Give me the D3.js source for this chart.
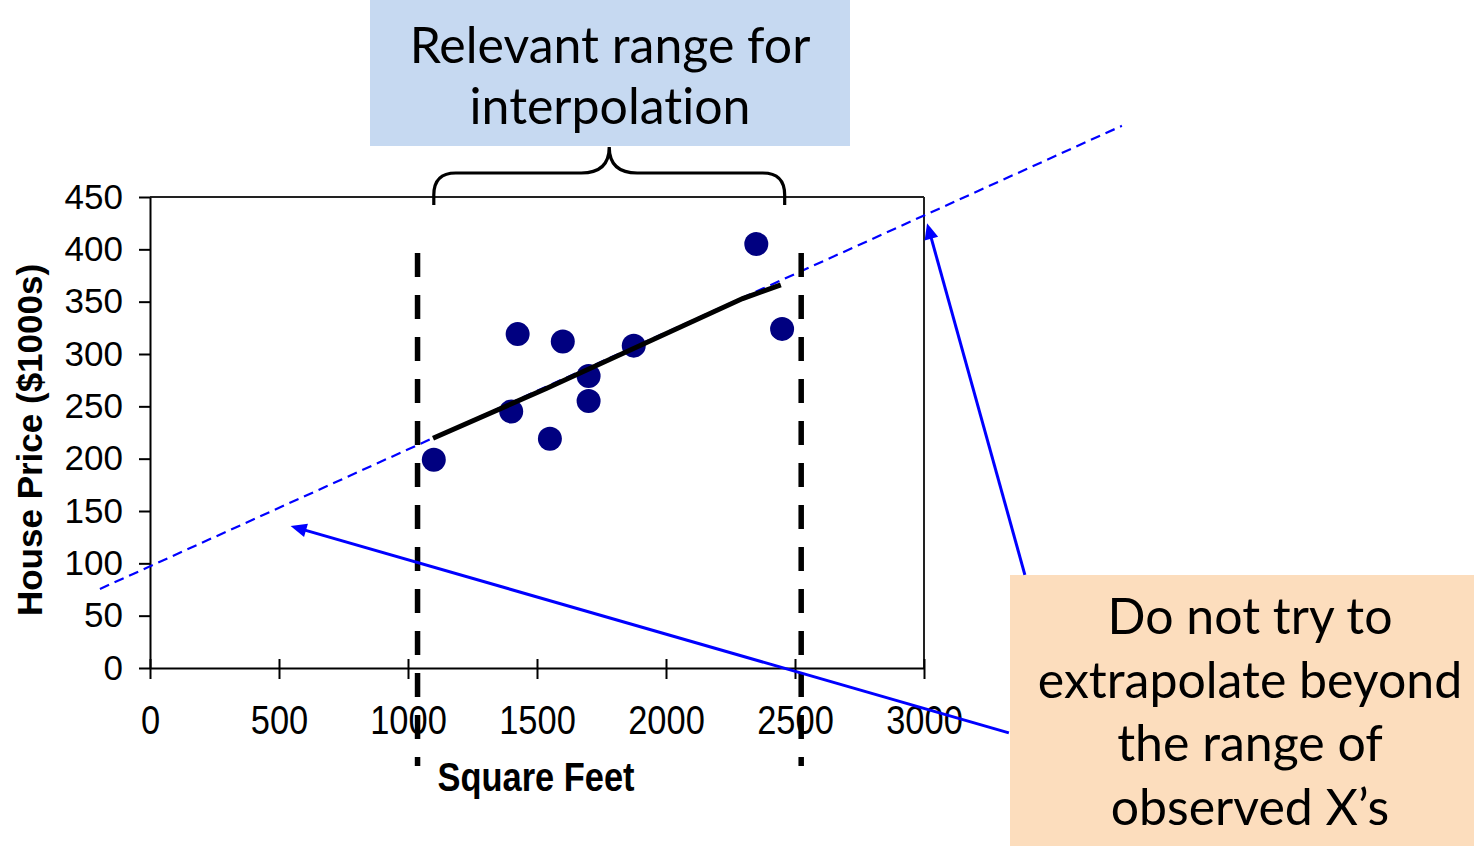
<!DOCTYPE html>
<html>
<head>
<meta charset="utf-8">
<script src="https://cdn.jsdelivr.net/npm/d3@7"></script>
<style>
  html, body { margin: 0; padding: 0; background: #ffffff; }
  svg { display: block; }
  .callout { font-variant-ligatures: none; font-feature-settings: "liga" 0, "clig" 0; }
</style>
</head>
<body>
<svg id="chart" width="1474" height="846"></svg>
<script>
// ---- data ----
const squareFeet = [1400, 1600, 1700, 1875, 1100, 1550, 2350, 2450, 1425, 1700];
const housePrice = [245, 312, 279, 308, 199, 219, 405, 324, 319, 255];
const xTickValues = [0, 500, 1000, 1500, 2000, 2500, 3000];
const yTickValues = [0, 50, 100, 150, 200, 250, 300, 350, 400, 450];
const fittedLine = [[1097, 219.5], [1536, 267], [2297, 353], [2445, 366]];
const extendedLine = [[-194, 75.5], [3767, 518]];
const relevantRange = [1037, 2524];
const braceRange = [1100, 2460];
const topLabel = ["Relevant range for", "interpolation"];
const sideLabel = ["Do not try to", "extrapolate beyond", "the range of", "observed X\u2019s"];
const arrowTips = [[3012, 425], [545, 135.7]];
const arrowTails = [[3391, 89], [3329, -62]];

// ---- layout ----
const svg = d3.select("#chart");
const x = d3.scaleLinear().domain([0, 3000]).range([150, 924]);
const y = d3.scaleLinear().domain([0, 450]).range([668, 197]);

// frame top & right
svg.append("line").attr("x1", x(0)).attr("x2", x(3000)).attr("y1", y(450)).attr("y2", y(450))
  .attr("stroke", "#222").attr("stroke-width", 2);
svg.append("line").attr("x1", x(3000)).attr("x2", x(3000)).attr("y1", y(450)).attr("y2", y(0))
  .attr("stroke", "#222").attr("stroke-width", 2);

// y axis
const yAxis = svg.append("g").attr("transform", `translate(${x(0)},0)`)
  .call(d3.axisLeft(y).tickValues(yTickValues).tickFormat(d3.format("d")).tickSize(11).tickSizeOuter(0).tickPadding(16));
yAxis.select(".domain").attr("stroke", "#000").attr("stroke-width", 2);
yAxis.selectAll(".tick line").attr("stroke", "#000").attr("stroke-width", 2);
yAxis.selectAll(".tick text").attr("font-family", "'Liberation Sans', Arial, sans-serif")
  .attr("font-size", 35).attr("fill", "#000");

// x axis
const xAxis = svg.append("g").attr("transform", `translate(0,${y(0)})`)
  .call(d3.axisBottom(x).tickValues(xTickValues).tickFormat(d3.format("d")).tickSize(11).tickSizeOuter(0).tickPadding(26));
xAxis.select(".domain").attr("stroke", "#000").attr("stroke-width", 2);
xAxis.selectAll(".tick line").attr("stroke", "#000").attr("stroke-width", 2).attr("y1", -9);
xAxis.selectAll(".tick text").attr("font-family", "'Liberation Sans', Arial, sans-serif")
  .attr("font-size", 41).attr("fill", "#000").attr("transform", "scale(0.84,1)");

// axis titles
svg.append("text").attr("transform", "translate(42,440) rotate(-90)")
  .attr("text-anchor", "middle").attr("font-family", "'Liberation Sans', Arial, sans-serif")
  .attr("font-weight", "bold").attr("font-size", 35).text("House Price ($1000s)");
svg.append("text").attr("transform", "translate(536,791) scale(0.84,1)")
  .attr("text-anchor", "middle").attr("font-family", "'Liberation Sans', Arial, sans-serif")
  .attr("font-weight", "bold").attr("font-size", 41).text("Square Feet");

// extended (extrapolated) regression line
const lineGen = d3.line().x(d => x(d[0])).y(d => y(d[1]));
svg.append("path").datum(extendedLine).attr("d", lineGen)
  .attr("fill", "none").attr("stroke", "#0000ff").attr("stroke-width", 2.2)
  .attr("stroke-dasharray", "10,6");

// points
svg.append("g").selectAll("circle").data(squareFeet).join("circle")
  .attr("cx", d => x(d)).attr("cy", (d, i) => y(housePrice[i])).attr("r", 12)
  .attr("fill", "#000080");

// fitted line in relevant range
svg.append("path").datum(fittedLine).attr("d", lineGen)
  .attr("fill", "none").attr("stroke", "#000").attr("stroke-width", 5);

// relevant range bounds
svg.append("g").selectAll("line").data(relevantRange).join("line")
  .attr("x1", d => x(d)).attr("x2", d => x(d)).attr("y1", 253).attr("y2", 766)
  .attr("stroke", "#000").attr("stroke-width", 5.5).attr("stroke-dasharray", "24,18");

// top callout box
svg.append("rect").attr("x", 370).attr("y", 0).attr("width", 480).attr("height", 146).attr("fill", "#c6d9f1");
svg.append("g").selectAll("text").data(topLabel).join("text")
  .attr("class", "callout")
  .attr("x", 610).attr("y", (d, i) => 63 + i * 61).attr("text-anchor", "middle")
  .attr("font-family", "Lato, 'Open Sans', sans-serif").attr("font-size", 50).attr("fill", "#000")
  .text(d => d);

// brace
const bx1 = x(braceRange[0]), bx2 = x(braceRange[1]), bm = (bx1 + bx2) / 2;
svg.append("path")
  .attr("d", `M${bx1},205 L${bx1},195 Q${bx1},173 ${bx1 + 22},173 L${bm - 28},173 Q${bm},173 ${bm},147 Q${bm},173 ${bm + 28},173 L${bx2 - 22},173 Q${bx2},173 ${bx2},195 L${bx2},205`)
  .attr("fill", "none").attr("stroke", "#000").attr("stroke-width", 3.2);

// side callout box
svg.append("rect").attr("x", 1010).attr("y", 575).attr("width", 464).attr("height", 271).attr("fill", "#fcddbd");
svg.append("g").selectAll("text").data(sideLabel).join("text")
  .attr("class", "callout")
  .attr("x", 1250).attr("y", (d, i) => 634 + i * 63.7).attr("text-anchor", "middle")
  .attr("font-family", "Lato, 'Open Sans', sans-serif").attr("font-size", 50).attr("fill", "#000")
  .text(d => d);

// arrows
arrowTips.forEach((tip, i) => {
  const tx = x(tip[0]), ty = y(tip[1]);
  const sx = x(arrowTails[i][0]), sy = y(arrowTails[i][1]);
  const ang = Math.atan2(ty - sy, tx - sx);
  const L = 16, W = 7;
  const bxp = tx - L * Math.cos(ang), byp = ty - L * Math.sin(ang);
  svg.append("line").attr("x1", sx).attr("y1", sy).attr("x2", bxp + 2 * Math.cos(ang)).attr("y2", byp + 2 * Math.sin(ang))
    .attr("stroke", "#0000ff").attr("stroke-width", 3);
  const p1 = [bxp + W * Math.sin(ang), byp - W * Math.cos(ang)];
  const p2 = [bxp - W * Math.sin(ang), byp + W * Math.cos(ang)];
  svg.append("path").attr("d", `M${tx},${ty} L${p1[0]},${p1[1]} L${p2[0]},${p2[1]} Z`).attr("fill", "#0000ff");
});
</script>
</body>
</html>
